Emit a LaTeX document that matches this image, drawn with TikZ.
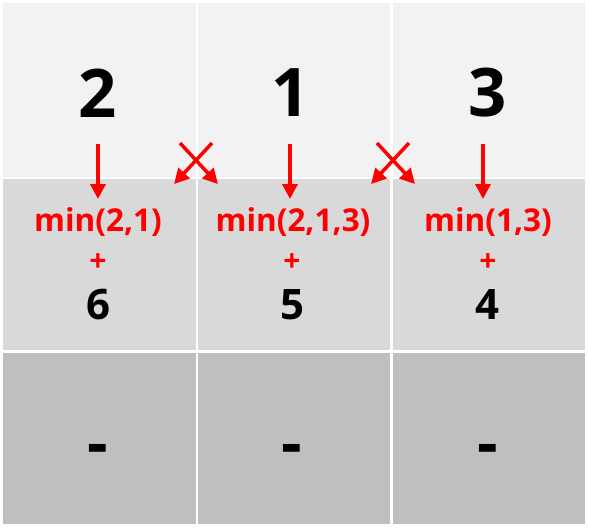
\documentclass[tikz,border=0pt]{standalone}
\usepackage{fontspec}
\setmainfont{Open Sans}
\usetikzlibrary{arrows.meta}
\definecolor{rowA}{HTML}{F2F2F2}
\definecolor{rowB}{HTML}{D9D9D9}
\definecolor{rowC}{HTML}{BFBFBF}
\definecolor{redA}{HTML}{FF0000}
\begin{document}
\begin{tikzpicture}[x=1pt,y=-1pt,
  cell/.style={draw=none,inner sep=0pt,minimum width=192.5pt,anchor=north west},
  bignum/.style={font=\bfseries\fontsize{67}{70}\selectfont,inner sep=0pt},
  mintext/.style={font=\bfseries\fontsize{31.5}{34}\selectfont,text=redA,inner sep=0pt},
  plus/.style={font=\bfseries\fontsize{30}{32}\selectfont,text=redA,inner sep=0pt},
  midnum/.style={font=\bfseries\fontsize{42}{46}\selectfont,inner sep=0pt},
  dashnum/.style={font=\bfseries\fontsize{64}{70}\selectfont,inner sep=0pt},
  redarrow/.style={draw=redA,line width=3.5pt,-{Triangle[length=15pt,width=15pt]}}
]
\useasboundingbox[fill=white] (0,0) rectangle (589,528);
% cells
\foreach \c/\x in {1/3,2/197.5,3/392.5}{
  \node[cell,fill=rowA,minimum height=174pt] (top\c) at (\x,3) {};
  \node[cell,fill=rowB,minimum height=170.5pt] (mid\c) at (\x,179) {};
  \node[cell,fill=rowC,minimum height=171pt] (bot\c) at (\x,352.5) {};
}
% top numbers
\node[bignum] (n1) at (98,93) {2};
\node[bignum] (n2) at (291,93) {1};
\node[bignum] (n3) at (488,93) {3};
% min texts
\node[mintext] (m1) at (98,222) {min(2,1)};
\node[mintext] (m2) at (293,222) {min(2,1,3)};
\node[mintext] (m3) at (488,222) {min(1,3)};
% plus
\node[plus] (p1) at (98,263) {+};
\node[plus] (p2) at (292,263) {+};
\node[plus] (p3) at (488,263) {+};
% mid numbers
\node[midnum] (v1) at (98,305) {6};
\node[midnum] (v2) at (292,305) {5};
\node[midnum] (v3) at (487,305) {4};
% dashes
\node[dashnum] (d1) at (98,455) {-};
\node[dashnum] (d2) at (292,455) {-};
\node[dashnum] (d3) at (488,455) {-};
% arrow coordinates
\foreach \i/\x in {1/98,2/290,3/483}{
  \coordinate (as\i) at (\x,144);
  \coordinate (ae\i) at (\x,199);
  \draw[redarrow] (as\i) -- (ae\i);
}
\foreach \i/\cx in {1/196,2/393}{
  \coordinate (xa\i) at (\cx+16,143);
  \coordinate (xb\i) at (\cx-22,184);
  \coordinate (xc\i) at (\cx-16,143);
  \coordinate (xd\i) at (\cx+22,184);
  \draw[redarrow] (xa\i) -- (xb\i);
  \draw[redarrow] (xc\i) -- (xd\i);
}
\end{tikzpicture}
\end{document}
